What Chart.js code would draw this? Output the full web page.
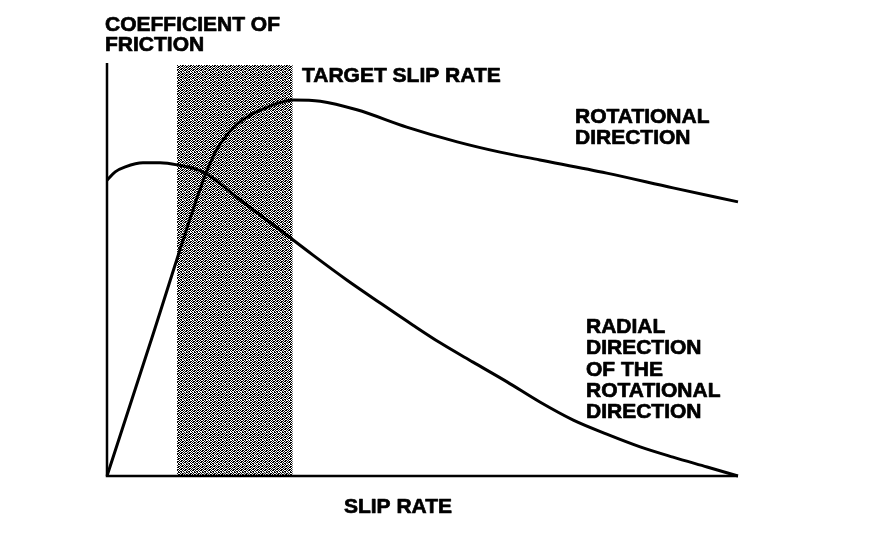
<!DOCTYPE html>
<html>
<head>
<meta charset="utf-8">
<script src="https://cdn.jsdelivr.net/npm/chart.js@4.4.1/dist/chart.umd.min.js"></script>
<style>
  html, body { margin: 0; padding: 0; background: #fff; }
  #wrap { width: 896px; height: 536px; position: relative; }
</style>
</head>
<body>
<div id="wrap"><canvas id="c" width="896" height="536"></canvas></div>
<script>
// ---- data (arbitrary units 0..100) ----
const rotationalX = [0, 6.8, 14.7, 15.9, 17.1, 18.4, 20.3, 22.7, 25.8, 29.5, 33.8, 39.6, 47.5, 55.5, 62.3, 68.6, 79.2, 89.7, 100];
const rotationalY = [0, 32.1, 69.6, 74.5, 78.6, 81.8, 85.2, 87.8, 90.0, 91.5, 91.2, 89.1, 84.9, 81.3, 78.8, 76.9, 73.7, 70.1, 66.7];

const radialX = [0, 1.3, 2.9, 5.7, 8.4, 11.1, 15.2, 21.1, 27.4, 32.6, 38.0, 43.3, 48.5, 52.8, 58.0, 63.4, 68.6, 73.9, 79.2, 84.5, 89.7, 95.1, 100];
const radialY = [72.0, 74.0, 75.2, 76.2, 76.2, 75.7, 74.0, 67.2, 59.9, 53.8, 47.7, 42.1, 36.7, 32.4, 27.7, 22.9, 18.0, 13.6, 10.2, 7.1, 4.6, 2.2, 0];

const targetBand = [11.1, 29.4];   // target slip rate range on x
const axisMax = [100, 100];        // x max, y max

const labelYAxis = ["COEFFICIENT OF", "FRICTION"];
const labelXAxis = ["SLIP RATE"];
const labelBand = ["TARGET SLIP RATE"];
const labelRotational = ["ROTATIONAL", "DIRECTION"];
const labelRadial = ["RADIAL", "DIRECTION", "OF THE", "ROTATIONAL", "DIRECTION"];

// ---- helpers ----
function toPoints(xs, ys) { return xs.map((x, i) => ({ x: x, y: ys[i] })); }

function makePattern(ctx) {
  const bits = [
    "10110100",
    "01001011",
    "10110110",
    "01101001",
    "10010110",
    "01101101",
    "11010010",
    "00101101"
  ];
  const pc = document.createElement('canvas');
  pc.width = 8; pc.height = 8;
  const p = pc.getContext('2d');
  p.fillStyle = '#fff';
  p.fillRect(0, 0, 8, 8);
  p.fillStyle = '#000';
  bits.forEach((row, r) => {
    for (let c = 0; c < row.length; c++) if (row[c] === '1') p.fillRect(c, r, 1, 1);
  });
  return ctx.createPattern(pc, 'repeat');
}

const FONT = "bold 21px 'Liberation Sans', Arial, Helvetica, sans-serif";

const decor = {
  id: 'decor',
  beforeDatasetsDraw(chart) {
    const ctx = chart.ctx, xs = chart.scales.x, ys = chart.scales.y;
    const x0 = xs.getPixelForValue(targetBand[0]);
    const x1 = xs.getPixelForValue(targetBand[1]);
    const yt = ys.getPixelForValue(axisMax[1]);
    const yb = ys.getPixelForValue(0);
    ctx.save();
    ctx.fillStyle = makePattern(ctx);
    ctx.fillRect(x0, yt, x1 - x0, yb - yt);
    ctx.restore();
  },
  afterDraw(chart) {
    const ctx = chart.ctx, xs = chart.scales.x, ys = chart.scales.y;
    const left = xs.getPixelForValue(0), right = xs.getPixelForValue(axisMax[0]);
    const bottom = ys.getPixelForValue(0), top = ys.getPixelForValue(axisMax[1]);
    ctx.save();
    // axes
    ctx.strokeStyle = '#000';
    ctx.lineWidth = 2.5;
    ctx.beginPath();
    ctx.moveTo(left, top - 2);
    ctx.lineTo(left, bottom);
    ctx.lineTo(right, bottom);
    ctx.stroke();
    // texts
    ctx.fillStyle = '#000';
    ctx.strokeStyle = '#000';
    ctx.lineWidth = 0.7;
    ctx.lineJoin = 'round';
    ctx.font = FONT;
    ctx.textBaseline = 'alphabetic';
    ctx.textAlign = 'left';
    const lines = (arr, x, y0, dy) => arr.forEach((t, i) => {
      ctx.fillText(t, x, y0 + i * dy);
      ctx.strokeText(t, x, y0 + i * dy);
    });
    lines(labelYAxis, 105, 31, 20);
    lines(labelBand, 302, 82, 21);
    lines(labelRotational, 575, 123, 21);
    lines(labelRadial, 586, 333, 21.3);
    ctx.textAlign = 'center';
    lines(labelXAxis, 398, 513, 21);
    ctx.restore();
  }
};

new Chart(document.getElementById('c'), {
  type: 'line',
  data: {
    datasets: [
      {
        label: 'Rotational direction',
        data: toPoints(rotationalX, rotationalY),
        borderColor: '#000',
        borderWidth: 3,
        pointRadius: 0,
        cubicInterpolationMode: 'monotone',
        fill: false,
        clip: false
      },
      {
        label: 'Radial direction of the rotational direction',
        data: toPoints(radialX, radialY),
        borderColor: '#000',
        borderWidth: 3,
        pointRadius: 0,
        cubicInterpolationMode: 'monotone',
        fill: false,
        clip: false
      }
    ]
  },
  options: {
    responsive: false,
    animation: false,
    events: [],
    layout: { padding: { left: 107, right: 158, top: 65, bottom: 60 } },
    scales: {
      x: { type: 'linear', min: 0, max: axisMax[0], display: false },
      y: { type: 'linear', min: 0, max: axisMax[1], display: false }
    },
    plugins: {
      legend: { display: false },
      tooltip: { enabled: false },
      title: { display: false }
    }
  },
  plugins: [decor]
});
</script>
</body>
</html>
